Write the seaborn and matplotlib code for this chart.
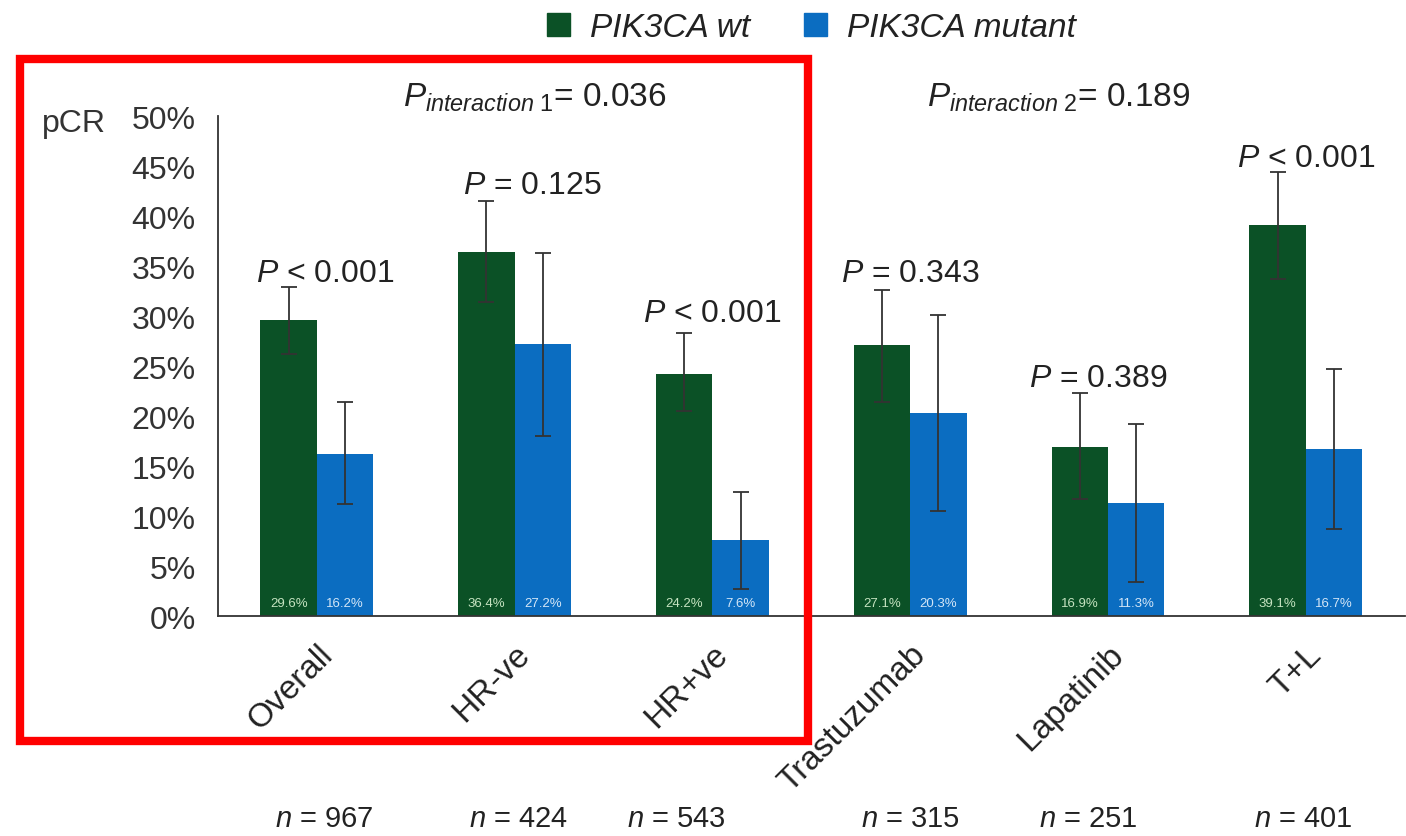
import seaborn as sns
import matplotlib.pyplot as plt
import matplotlib.patches as mpatches
import numpy as np
import pandas as pd

# groups and series
groups = ['Overall', 'HR-ve', 'HR+ve', 'Trastuzumab', 'Lapatinib', 'T+L']
status = ['PIK3CA wt', 'PIK3CA mutant']
pcr_wt = [29.6, 36.4, 24.2, 27.1, 16.9, 39.1]
pcr_mut = [16.2, 27.2, 7.6, 20.3, 11.3, 16.7]
ci_low_wt = [26.2, 31.4, 20.5, 21.4, 11.7, 33.7]
ci_high_wt = [32.9, 41.5, 28.3, 32.6, 22.3, 44.4]
ci_low_mut = [11.2, 18.0, 2.7, 10.5, 3.4, 8.7]
ci_high_mut = [21.4, 36.3, 12.4, 30.1, 19.2, 24.7]
p_labels = ['< 0.001', '= 0.125', '< 0.001', '= 0.343', '= 0.389', '< 0.001']
n_labels = ['967', '424', '543', '315', '251', '401']
p_interaction = ['0.036', '0.189']

GREEN = '#0b5126'
BLUE = '#0b6dc1'

df = pd.DataFrame({
    'group': groups * 2,
    'status': [status[0]] * 6 + [status[1]] * 6,
    'pcr': pcr_wt + pcr_mut,
})

sns.set_style('white')
plt.rcParams['font.family'] = ['Liberation Sans', 'DejaVu Sans']
plt.rcParams['mathtext.fontset'] = 'custom'
plt.rcParams['mathtext.rm'] = 'Liberation Sans'
plt.rcParams['mathtext.it'] = 'Liberation Sans:italic'

fig = plt.figure(figsize=(14.06, 8.37), dpi=100)
ax = fig.add_axes([0.155, 0.2628, 0.844, 0.5974])

sns.barplot(data=df, x='group', y='pcr', hue='status', order=groups,
            hue_order=status, palette=[GREEN, BLUE], width=0.57,
            errorbar=None, saturation=1, legend=False, linewidth=0, ax=ax)

lows = [ci_low_wt, ci_low_mut]
highs = [ci_high_wt, ci_high_mut]
vals = [pcr_wt, pcr_mut]
txt_col = ['#c5e3c0', '#d3e6f7']
bar_conts = list(ax.containers)[:2]
for k, cont in enumerate(bar_conts):
    xs = np.array([b.get_x() + b.get_width() / 2 for b in cont])
    v = np.array(vals[k])
    err = [v - np.array(lows[k]), np.array(highs[k]) - v]
    ax.errorbar(xs, v, yerr=err, fmt='none', ecolor='#333333',
                elinewidth=1.3, capsize=6, capthick=1.3)
    for x, val in zip(xs, v):
        ax.text(x, 1.3, f'{val:.1f}%', ha='center', va='center',
                fontsize=9.5, color=txt_col[k])

ax.set_ylim(0, 50)
ax.set_xlim(-0.5, 5.5)
ax.set_yticks(np.arange(0, 51, 5))
ax.set_yticklabels([f'{t}%' for t in range(0, 51, 5)], fontsize=23, color='#333333')
ax.set_xticks(range(6))
ax.set_xticklabels(groups, rotation=45, ha='right', va='top',
                   rotation_mode='anchor', fontsize=24, color='#222222')
ax.tick_params(axis='x', length=0, pad=16)
ax.set_xticks(np.arange(-0.5, 5.6, 1), minor=True)
ax.tick_params(axis='x', which='minor', length=9, width=1.3, color='#333333')
ax.tick_params(axis='y', length=8, width=1.3, color='#333333', pad=8)
ax.set_xlabel('')
ax.set_ylabel('')
for s in ['top', 'right']:
    ax.spines[s].set_visible(False)
for s in ['left', 'bottom']:
    ax.spines[s].set_color('#333333')
    ax.spines[s].set_linewidth(1.3)

# P values above each group
p_y = [33.5, 42.3, 29.5, 33.5, 23.0, 45.0]
p_dx = [0.04, 0.09, 0.0, 0.0, -0.05, 0.0]
for i, (lab, py) in enumerate(zip(p_labels, p_y)):
    ax.text(i + p_dx[i], py, r'$P$ ' + lab, ha='center', va='baseline',
            fontsize=23, color='#222222')

ax.text(1.1, 51, r'$P_{\mathit{interaction\ 1}}$= ' + p_interaction[0],
        ha='center', va='baseline', fontsize=24, color='#222222', clip_on=False)
ax.text(3.75, 51, r'$P_{\mathit{interaction\ 2}}$= ' + p_interaction[1],
        ha='center', va='baseline', fontsize=24, color='#222222', clip_on=False)

ax.text(-0.148, 48.5, 'pCR', ha='left', va='baseline', fontsize=23,
        color='#333333', transform=ax.get_yaxis_transform(), clip_on=False)

# n labels
n_dx = [0.04, 0.02, -0.18, 0.0, -0.1, -0.01]
for i, n in enumerate(n_labels):
    ax.text(i + n_dx[i], -21.0, r'$n$ = ' + n, ha='center', va='baseline',
            fontsize=21, color='#222222', clip_on=False)

# legend
handles = [mpatches.Patch(color=GREEN, label=status[0]),
           mpatches.Patch(color=BLUE, label=status[1])]
leg = fig.legend(handles=handles, loc='upper center', bbox_to_anchor=(0.577, 1.02),
                 ncol=2, frameon=False, fontsize=24, handlelength=0.7,
                 handleheight=0.7, columnspacing=1.6, handletextpad=0.6)
for t in leg.get_texts():
    t.set_fontstyle('italic')
    t.set_color('#222222')

# highlight box
rect = mpatches.Rectangle((20 / 1406, 1 - 742 / 837), 788 / 1406, 682 / 837,
                          transform=fig.transFigure, fill=False,
                          edgecolor='#ff0000', linewidth=6)
fig.patches.append(rect)

fig.savefig('out.png', dpi=100)
